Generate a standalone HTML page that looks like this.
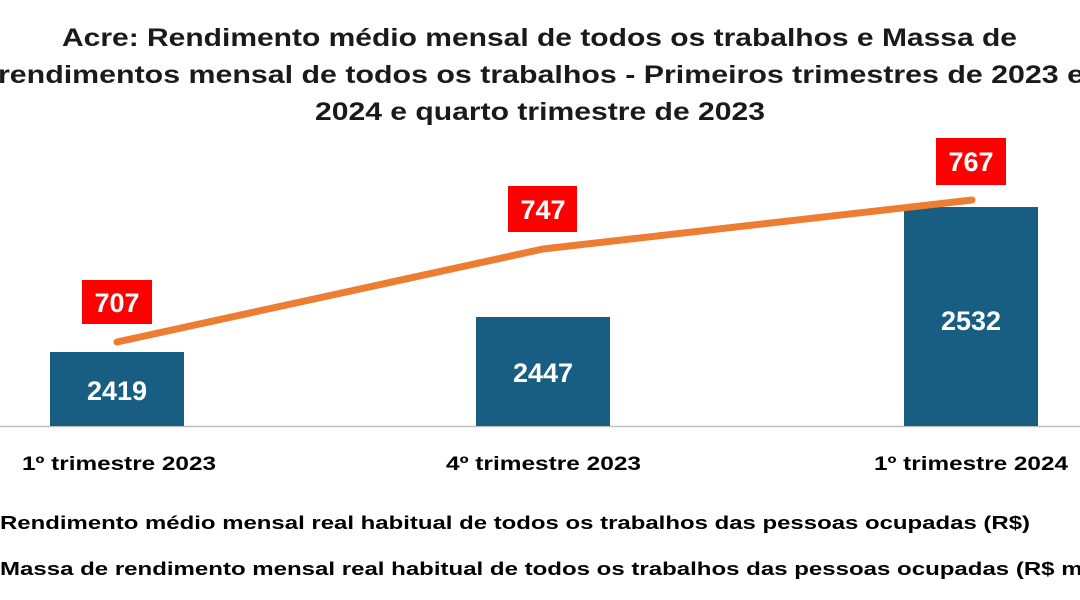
<!DOCTYPE html>
<html><head><meta charset="utf-8"><style>
html,body{margin:0;padding:0;background:#fff;width:1080px;height:600px;overflow:hidden}
svg text{font-family:"Liberation Sans",sans-serif;font-weight:bold}
</style></head><body>
<svg width="1080" height="600" xmlns="http://www.w3.org/2000/svg">
<g font-size="25" fill="#1a1a1a">
<text x="62" y="46" textLength="955" lengthAdjust="spacingAndGlyphs">Acre: Rendimento médio mensal de todos os trabalhos e Massa de</text>
<text x="-2" y="83" textLength="1086" lengthAdjust="spacingAndGlyphs">rendimentos mensal de todos os trabalhos - Primeiros trimestres de 2023 e</text>
<text x="315" y="120" textLength="450" lengthAdjust="spacingAndGlyphs">2024 e quarto trimestre de 2023</text>
</g>
<line x1="0" y1="426.5" x2="1080" y2="426.5" stroke="#bfbfbf" stroke-width="1.5"/>
<rect x="50" y="352" width="134" height="74" fill="#175e82"/>
<rect x="476" y="317" width="134" height="109" fill="#175e82"/>
<rect x="904" y="207" width="134" height="219" fill="#175e82"/>
<g font-size="27" fill="#fff" text-anchor="middle">
<text x="117" y="400">2419</text>
<text x="543" y="382">2447</text>
<text x="971" y="330">2532</text>
</g>
<polyline points="117,342 543,249 972,200" fill="none" stroke="#ed7d31" stroke-width="7" stroke-linecap="round" stroke-linejoin="round"/>
<rect x="82" y="280" width="70" height="44" fill="#ff0000"/>
<rect x="508" y="186" width="69" height="46" fill="#ff0000"/>
<rect x="936" y="138" width="70" height="47" fill="#ff0000"/>
<g font-size="27" fill="#fff" text-anchor="middle">
<text x="117" y="312">707</text>
<text x="543" y="219">747</text>
<text x="971" y="171">767</text>
</g>
<g font-size="19" fill="#000">
<text x="22" y="470" textLength="194" lengthAdjust="spacingAndGlyphs">1º trimestre 2023</text>
<text x="446" y="470" textLength="195" lengthAdjust="spacingAndGlyphs">4º trimestre 2023</text>
<text x="874" y="470" textLength="194" lengthAdjust="spacingAndGlyphs">1º trimestre 2024</text>
</g>
<g font-size="18.5" fill="#000">
<text x="0" y="529" textLength="1030" lengthAdjust="spacingAndGlyphs">Rendimento médio mensal real habitual de todos os trabalhos das pessoas ocupadas (R$)</text>
<text x="0" y="575" textLength="1160" lengthAdjust="spacingAndGlyphs">Massa de rendimento mensal real habitual de todos os trabalhos das pessoas ocupadas (R$ milhões)</text>
</g>
</svg>
</body></html>
